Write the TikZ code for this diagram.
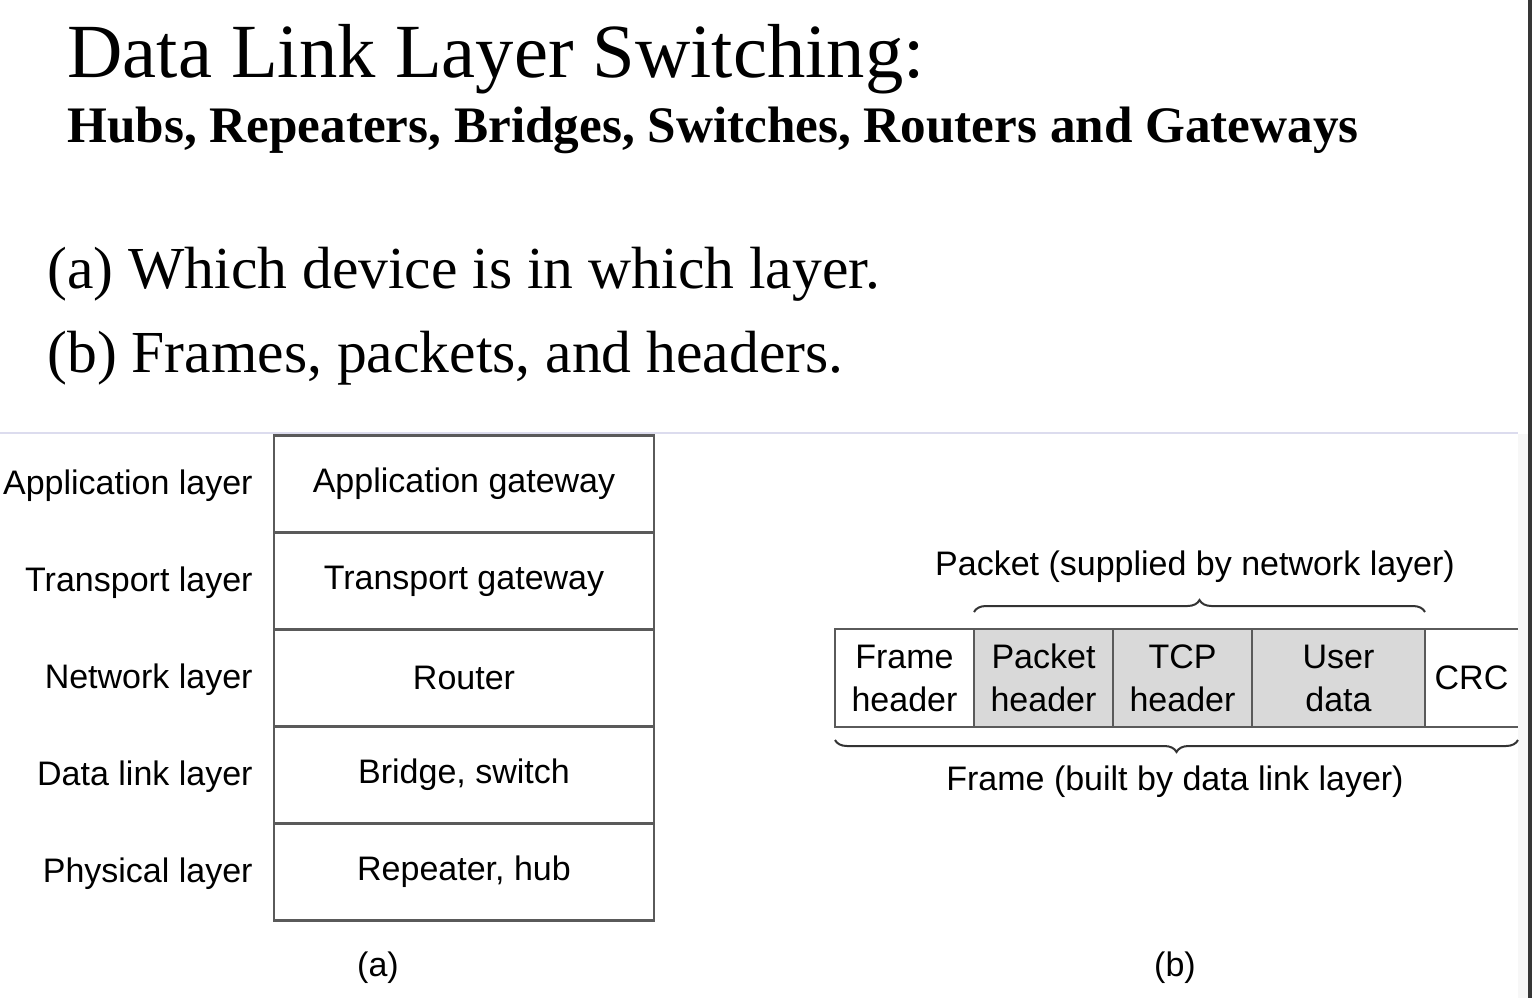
\documentclass[tikz,border=0pt]{standalone}
\usepackage{fontspec}
\setmainfont{Liberation Serif}
\newfontfamily\diagfont{Liberation Sans}
\usetikzlibrary{decorations.pathreplacing}
\definecolor{edge}{HTML}{5A5A5A}
\definecolor{cellgrey}{HTML}{D9D9D9}
\definecolor{rulelav}{HTML}{DCDCEE}
\definecolor{stripdark}{HTML}{363636}
\begin{document}
\begin{tikzpicture}[x=0.5pt,y=-0.5pt,
  lbl/.style={font=\diagfont\fontsize{17}{21}\selectfont, inner sep=0pt},
  layerbox/.style={draw=edge, line width=1.1pt, minimum width=190pt, minimum height=48.5pt, inner sep=0pt, outer sep=0pt,
    font=\diagfont\fontsize{17}{21}\selectfont},
  cell/.style={draw=edge, line width=1.1pt, minimum width=69.5pt, minimum height=49pt, inner sep=0pt, outer sep=0pt,
    align=center, font=\diagfont\fontsize{17}{21.5}\selectfont},
  brc/.style={draw=black!80, line width=1pt, decorate, decoration={brace, amplitude=6pt}}]
\useasboundingbox (0,0) rectangle (1532,998);
% page background and edges
\fill[white] (0,0) rectangle (1532,998);
\fill[black!3] (1518,434) rectangle (1528,998);
\fill[stripdark] (1528,0) rectangle (1532,998);
\draw[rulelav, line width=0.8pt] (0,433) -- (1518,433);

% headings
\node[anchor=base west, inner sep=0pt] (title) at (67,77) {\fontsize{38.3}{40}\selectfont Data Link Layer Switching:};
\node[anchor=base west, inner sep=0pt] (subtitle) at (67,142) {\fontsize{25.6}{28}\selectfont\bfseries Hubs, Repeaters, Bridges, Switches, Routers and Gateways};
\node[anchor=base west, inner sep=0pt] (itema) at (47,288) {\fontsize{29.8}{32}\selectfont (a) Which device is in which layer.};
\node[anchor=base west, inner sep=0pt] (itemb) at (47,372) {\fontsize{29.8}{32}\selectfont (b) Frames, packets, and headers.};

% (a) layers and devices
\node[layerbox] (app) at (464,484) {Application gateway};
\node[layerbox, anchor=north] (trn) at (app.south) {Transport gateway};
\node[layerbox, anchor=north] (net) at (trn.south) {Router};
\node[layerbox, anchor=north] (dll) at (net.south) {Bridge, switch};
\node[layerbox, anchor=north] (phy) at (dll.south) {Repeater, hub};
\node[lbl, anchor=east] (lapp) at (253,486) {Application layer};
\node[lbl, anchor=east] (ltrn) at (253,583) {Transport layer};
\node[lbl, anchor=east] (lnet) at (253,680) {Network layer};
\node[lbl, anchor=east] (ldll) at (253,777) {Data link layer};
\node[lbl, anchor=east] (lphy) at (253,874) {Physical layer};
\node[lbl] (capa) at (378,968) {(a)};

% (b) frame layout
\node[cell] (fh) at (904.5,678) {Frame\\header};
\node[cell, fill=cellgrey, anchor=west] (ph) at (fh.east) {Packet\\header};
\node[cell, fill=cellgrey, anchor=west] (tc) at (ph.east) {TCP\\header};
\node[cell, fill=cellgrey, anchor=west, minimum width=86.5pt] (ud) at (tc.east) {User\\data};
\node[cell, draw=none, anchor=west, minimum width=46.5pt] (crc) at (ud.east) {CRC};
\draw[edge, line width=1.1pt] (ud.north east) -- (crc.north east);
\draw[edge, line width=1.1pt] (ud.south east) -- (crc.south east);

\coordinate (pbl) at ([yshift=8.5pt]ph.north west);
\coordinate (pbr) at ([yshift=8.5pt]ud.north east);
\draw[brc] (pbl) -- (pbr);
\node[lbl] (plabel) at (1195,567) {Packet (supplied by network layer)};

\coordinate (fbl) at ([yshift=-6.5pt]fh.south west);
\coordinate (fbr) at ([yshift=-6.5pt]crc.south east);
\draw[brc] (fbr) -- (fbl);
\node[lbl] (flabel) at (1175,782) {Frame (built by data link layer)};
\node[lbl] (capb) at (1175,968) {(b)};
\end{tikzpicture}
\end{document}
